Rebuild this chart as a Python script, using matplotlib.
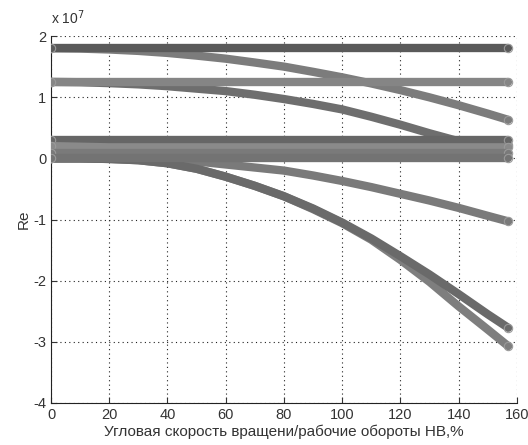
import numpy as np
import matplotlib
matplotlib.use('Agg')
import matplotlib.pyplot as plt
from matplotlib.ticker import FuncFormatter

plt.rcParams['font.family'] = ['Liberation Sans', 'DejaVu Sans']
plt.rcParams['axes.unicode_minus'] = False

# rotor speed, % of nominal
xs = [0, 10, 20, 30, 40, 50, 60, 70, 80, 90, 100, 110, 120, 130, 140, 150, 157]

# Re values, in units of 1e7
re_top_flat = [1.8] * 17
re_top_fall = [1.8, 1.795, 1.78, 1.757, 1.724, 1.68, 1.63, 1.567, 1.5, 1.415,
               1.325, 1.225, 1.116, 0.997, 0.869, 0.731, 0.63]
re_mid_flat = [1.25] * 17
re_mid_fall = [1.25, 1.245, 1.23, 1.21, 1.18, 1.14, 1.1, 1.04, 0.97, 0.89,
               0.8, 0.68, 0.55, 0.41, 0.28, 0.23, 0.22]
re_low_a = [0.3] * 17
re_low_b = [0.2, 0.19, 0.18, 0.18, 0.18, 0.18, 0.18, 0.18, 0.18, 0.18,
            0.18, 0.18, 0.18, 0.18, 0.18, 0.18, 0.18]
re_low_c = [0.08] * 17
re_low_d = [0.0] * 17
re_fall_1 = [0.0, 0.0, 0.0, -0.01, -0.02, -0.05, -0.1, -0.15, -0.2, -0.28,
             -0.37, -0.47, -0.58, -0.69, -0.81, -0.94, -1.03]
re_fall_2 = [0.0, 0.0, -0.01, -0.03, -0.08, -0.17, -0.3, -0.45, -0.62, -0.82,
             -1.05, -1.31, -1.6, -1.9, -2.22, -2.55, -2.77]
re_fall_3 = [0.0, 0.0, -0.01, -0.03, -0.08, -0.17, -0.3, -0.45, -0.62, -0.83,
             -1.06, -1.33, -1.66, -2.02, -2.42, -2.8, -3.07]

curves = [
    (re_top_fall, '#7c7c7c'),
    (re_top_flat, '#5a5a5a'),
    (re_mid_fall, '#6e6e6e'),
    (re_mid_flat, '#858585'),
    (re_fall_1, '#7a7a7a'),
    (re_fall_3, '#7e7e7e'),
    (re_fall_2, '#6a6a6a'),
    (re_low_a, '#666666'),
    (re_low_b, '#8a8a8a'),
    (re_low_c, '#7a7a7a'),
    (re_low_d, '#737373'),
]

fig = plt.figure(figsize=(5.28, 4.45), dpi=100)
ax = fig.add_axes([0.0966, 0.0944, 0.8824, 0.8246])

for ys, col in curves:
    ax.plot(xs, np.array(ys) * 1e7, color=col, lw=6, solid_capstyle='round',
            marker='o', ms=6, mfc='none', mec='#9a9a9a', mew=0.8,
            markevery=[0, len(xs) - 1], zorder=3)

ax.set_xlim(0, 160)
ax.set_ylim(-4e7, 2e7)
ax.set_xticks(np.arange(0, 161, 20))
ax.set_yticks(np.arange(-4e7, 2.01e7, 1e7))
ax.yaxis.set_major_formatter(FuncFormatter(lambda v, p: '%d' % round(v / 1e7)))
ax.text(0.0, 1.025, 'x 10$^7$', transform=ax.transAxes, fontsize=10,
        color='#333333', ha='left', va='bottom')

ax.grid(True, linestyle=(0, (1, 3)), color='#222222', lw=0.8)
ax.tick_params(direction='in', labelsize=10.5, colors='#333333', length=4)
ax.spines['top'].set_visible(False)
ax.spines['right'].set_visible(False)
ax.spines['left'].set_color('#222222')
ax.spines['bottom'].set_color('#222222')

ax.set_xlabel('Угловая скорость вращени/рабочие обороты НВ,%', fontsize=11, color='#333333', labelpad=2)
ax.set_ylabel('Re', fontsize=11, color='#333333', labelpad=2)

fig.savefig('out.png', dpi=100)
